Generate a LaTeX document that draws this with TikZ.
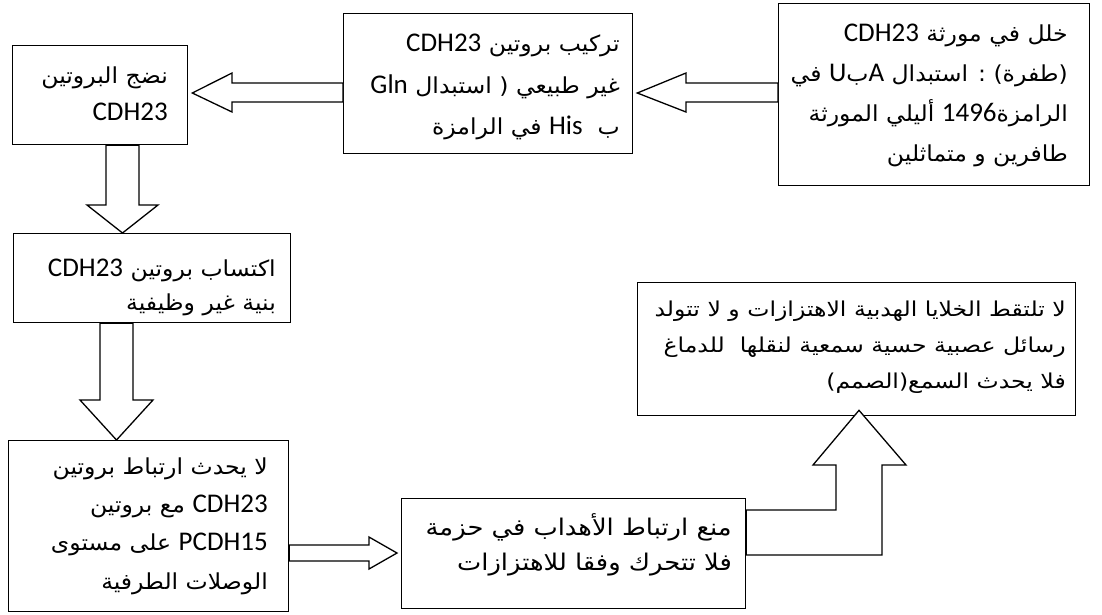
\documentclass[tikz,border=0pt]{standalone}
\usepackage{fontspec}
\usetikzlibrary{calc}
\newfontfamily\arf[Script=Arabic,FakeStretch=1.07]{DejaVu Sans}
\newfontfamily\arfb[Script=Arabic,FakeStretch=1.12]{DejaVu Sans}
\newfontfamily\arfc[Script=Arabic,FakeStretch=1.15]{DejaVu Sans}
\newfontfamily\latf{Carlito}
\TeXXeTstate=1
\newcommand\lt[1]{\beginL{\latf\fontsize{27}{30}\selectfont #1}\endL}
\newcommand\rl[1]{\beginR #1\endR}
\begin{document}
\begin{tikzpicture}[x=1pt,y=-1pt,
  box/.style={draw, line width=1.3pt, inner sep=0pt, anchor=north west},
  ln/.style={anchor=base east, inner sep=0pt, font=\arf\fontsize{22}{24}\selectfont},
  lnb/.style={anchor=base east, inner sep=0pt, font=\arfb\fontsize{23}{26}\selectfont},
  lnc/.style={anchor=base east, inner sep=0pt, font=\arfc\fontsize{20.5}{24}\selectfont},
  blk/.style={draw, line width=1.3pt, fill=white, line join=miter}]
\fill[white] (0,0) rectangle (1102,614);
\useasboundingbox (0,0) rectangle (1102,614);

% boxes
\node[box, minimum width=311pt, minimum height=182pt] (b1) at (778,3) {};
\node[box, minimum width=289pt, minimum height=140pt] (b2) at (343,13) {};
\node[box, minimum width=175pt, minimum height=99pt] (b3) at (12,45) {};
\node[box, minimum width=277pt, minimum height=89pt] (b4) at (13,233) {};
\node[box, minimum width=280pt, minimum height=171pt] (b5) at (8,440) {};
\node[box, minimum width=344pt, minimum height=110pt] (b6) at (401,498) {};
\node[box, minimum width=438pt, minimum height=133pt] (b7) at (637,282) {};

% texts
\node[ln] (t1a) at (1068,41) {\rl{خلل في مورثة \lt{CDH23}}};
\node[ln] (t1b) at (1068,81) {\rl{(طفرة) : استبدال \lt{A}ب\lt{U} في}};
\node[ln] (t1c) at (1068,121) {\rl{الرامزة\lt{1496} أليلي المورثة}};
\node[ln] (t1d) at (1068,161) {\rl{طافرين و متماثلين}};

\node[ln] (t2a) at (620,51) {\rl{تركيب بروتين \lt{CDH23}}};
\node[ln] (t2b) at (620,93) {\rl{غير طبيعي ( استبدال \lt{Gln}}};
\node[ln] (t2c) at (620,134) {\rl{ب\ \ \lt{His} في الرامزة}};

\node[ln] (t3a) at (168,83) {\rl{نضج البروتين}};
\node[ln] (t3b) at (168,120) {\rl{\lt{CDH23}}};

\node[ln] (t4a) at (276,276) {\rl{اكتساب بروتين \lt{CDH23}}};
\node[ln] (t4b) at (276,310) {\rl{بنية غير وظيفية}};

\node[ln] (t5a) at (268,474) {\rl{لا يحدث ارتباط بروتين}};
\node[ln] (t5b) at (268,512) {\rl{\lt{CDH23} مع بروتين}};
\node[ln] (t5c) at (268,550) {\rl{\lt{PCDH15} على مستوى}};
\node[ln] (t5d) at (268,589) {\rl{الوصلات الطرفية}};

\node[lnb] (t6a) at (732,535) {\rl{منع ارتباط الأهداب في حزمة}};
\node[lnb] (t6b) at (732,570) {\rl{فلا تتحرك وفقا للاهتزازات}};

\node[lnc] (t7a) at (1066,316) {\rl{لا تلتقط الخلايا الهدبية الاهتزازات و لا تتولد}};
\node[lnc] (t7b) at (1066,352) {\rl{رسائل عصبية حسية سمعية لنقلها\ \ للدماغ}};
\node[lnc] (t7c) at (1066,388) {\rl{فلا يحدث السمع(الصمم)}};

% block arrows
\draw[blk] (b1.west |- 0,83) -- (686,83) -- (686,73) -- ([xshift=4pt]b2.east |- 0,93)
  -- (686,112) -- (686,102) -- (b1.west |- 0,102) -- cycle;
\draw[blk] (b2.west |- 0,83) -- (232,83) -- (232,73) -- ([xshift=4pt]b3.east |- 0,93)
  -- (232,112) -- (232,102) -- (b2.west |- 0,102) -- cycle;
\draw[blk] (b3.south -| 106,0) -- (106,205) -- (87,205) -- (b4.north -| 122.5,0)
  -- (158,205) -- (139,205) -- (b3.south -| 139,0) -- cycle;
\draw[blk] (b4.south -| 100,0) -- (100,400) -- (80,400) -- (b5.north -| 116.5,0)
  -- (153,400) -- (133,400) -- (b4.south -| 133,0) -- cycle;
\draw[blk] (b5.east |- 0,545) -- (369,545) -- (369,537) -- ([xshift=-4pt]b6.west |- 0,553)
  -- (369,569) -- (369,561) -- (b5.east |- 0,561) -- cycle;
\draw[blk] (b6.east |- 0,510) -- (836,510) -- (836,465) -- (813,465) -- ([yshift=6pt]b7.south -| 859,0)
  -- (906,465) -- (882,465) -- (882,555) -- (b6.east |- 0,555) -- cycle;
\end{tikzpicture}
\end{document}
